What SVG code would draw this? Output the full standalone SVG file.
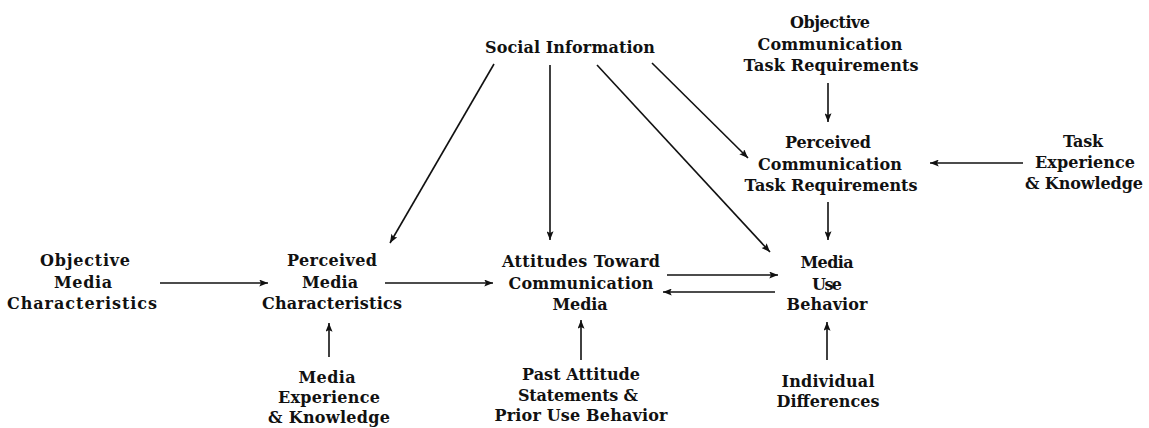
<svg xmlns="http://www.w3.org/2000/svg" width="1149" height="428" viewBox="0 0 1149 428">
  <style>
    .lbl { font-family: "DejaVu Serif", "Liberation Serif", serif; font-size: 16px; font-weight: bold; fill: #111; text-anchor: middle; }
    .edge { stroke: #111; stroke-width: 1.6; fill: none; marker-end: url(#arrow); }
  </style>
  <defs>
    <marker id="arrow" viewBox="0 0 10 8" refX="10" refY="4" markerWidth="10" markerHeight="7" markerUnits="userSpaceOnUse" orient="auto">
      <path d="M0,0 L10,4 L0,8 L2,4 Z" fill="#111"/>
    </marker>
  </defs>

  <rect width="1149" height="428" fill="#fff"/>

  <!-- connectors -->
  <g id="connectors">
    <!-- social information fan-out -->
    <line class="edge" x1="494" y1="64" x2="390" y2="243"/>
    <line class="edge" x1="550" y1="65" x2="550" y2="240"/>
    <line class="edge" x1="597" y1="65" x2="770" y2="252"/>
    <line class="edge" x1="652" y1="63" x2="748" y2="158"/>
    <!-- task requirements chain -->
    <line class="edge" x1="828" y1="83" x2="828" y2="122"/>
    <line class="edge" x1="1023" y1="163" x2="930" y2="163"/>
    <line class="edge" x1="828" y1="202" x2="828" y2="240"/>
    <!-- media characteristics chain -->
    <line class="edge" x1="160" y1="283" x2="268" y2="283"/>
    <line class="edge" x1="385" y1="283" x2="493" y2="283"/>
    <line class="edge" x1="667" y1="275" x2="778" y2="275"/>
    <line class="edge" x1="775" y1="292" x2="663" y2="292"/>
    <!-- bottom inputs -->
    <line class="edge" x1="329" y1="357" x2="329" y2="323"/>
    <line class="edge" x1="581" y1="360" x2="581" y2="320"/>
    <line class="edge" x1="827" y1="360" x2="827" y2="322"/>
  </g>

  <g id="social-information">
    <text class="lbl" x="570" y="53" textLength="170" lengthAdjust="spacing">Social Information</text>
  </g>

  <g id="objective-task-requirements">
    <text class="lbl" x="830" y="28" textLength="80" lengthAdjust="spacing">Objective</text>
    <text class="lbl" x="830" y="50" textLength="145" lengthAdjust="spacing">Communication</text>
    <text class="lbl" x="831" y="71" textLength="175" lengthAdjust="spacing">Task Requirements</text>
  </g>

  <g id="perceived-task-requirements">
    <text class="lbl" x="828" y="148" textLength="86" lengthAdjust="spacing">Perceived</text>
    <text class="lbl" x="830" y="170" textLength="144" lengthAdjust="spacing">Communication</text>
    <text class="lbl" x="831" y="191" textLength="173" lengthAdjust="spacing">Task Requirements</text>
  </g>

  <g id="task-experience">
    <text class="lbl" x="1083" y="147" textLength="40" lengthAdjust="spacing">Task</text>
    <text class="lbl" x="1085" y="168" textLength="100" lengthAdjust="spacing">Experience</text>
    <text class="lbl" x="1084" y="189" textLength="118" lengthAdjust="spacing">&amp; Knowledge</text>
  </g>

  <g id="objective-media">
    <text class="lbl" x="85" y="266" textLength="90" lengthAdjust="spacing">Objective</text>
    <text class="lbl" x="83" y="288" textLength="58" lengthAdjust="spacing">Media</text>
    <text class="lbl" x="82" y="309" textLength="150" lengthAdjust="spacing">Characteristics</text>
  </g>

  <g id="perceived-media">
    <text class="lbl" x="332" y="266" textLength="90" lengthAdjust="spacing">Perceived</text>
    <text class="lbl" x="330" y="288" textLength="56" lengthAdjust="spacing">Media</text>
    <text class="lbl" x="332" y="309" textLength="140" lengthAdjust="spacing">Characteristics</text>
  </g>

  <g id="media-experience">
    <text class="lbl" x="327" y="383" textLength="57" lengthAdjust="spacing">Media</text>
    <text class="lbl" x="329" y="403" textLength="102" lengthAdjust="spacing">Experience</text>
    <text class="lbl" x="329" y="423" textLength="122" lengthAdjust="spacing">&amp; Knowledge</text>
  </g>

  <g id="attitudes">
    <text class="lbl" x="581" y="267" textLength="158" lengthAdjust="spacing">Attitudes Toward</text>
    <text class="lbl" x="581" y="289" textLength="145" lengthAdjust="spacing">Communication</text>
    <text class="lbl" x="580" y="310" textLength="55" lengthAdjust="spacing">Media</text>
  </g>

  <g id="past-attitude">
    <text class="lbl" x="581" y="380" textLength="118" lengthAdjust="spacing">Past Attitude</text>
    <text class="lbl" x="578" y="401" textLength="120" lengthAdjust="spacing">Statements &amp;</text>
    <text class="lbl" x="581" y="421" textLength="173" lengthAdjust="spacing">Prior Use Behavior</text>
  </g>

  <g id="media-use-behavior">
    <text class="lbl" x="827" y="268" textLength="53" lengthAdjust="spacing">Media</text>
    <text class="lbl" x="827" y="290" textLength="30" lengthAdjust="spacing">Use</text>
    <text class="lbl" x="827" y="310" textLength="81" lengthAdjust="spacing">Behavior</text>
  </g>

  <g id="individual-differences">
    <text class="lbl" x="828" y="387" textLength="93" lengthAdjust="spacing">Individual</text>
    <text class="lbl" x="828" y="407" textLength="103" lengthAdjust="spacing">Differences</text>
  </g>
</svg>
